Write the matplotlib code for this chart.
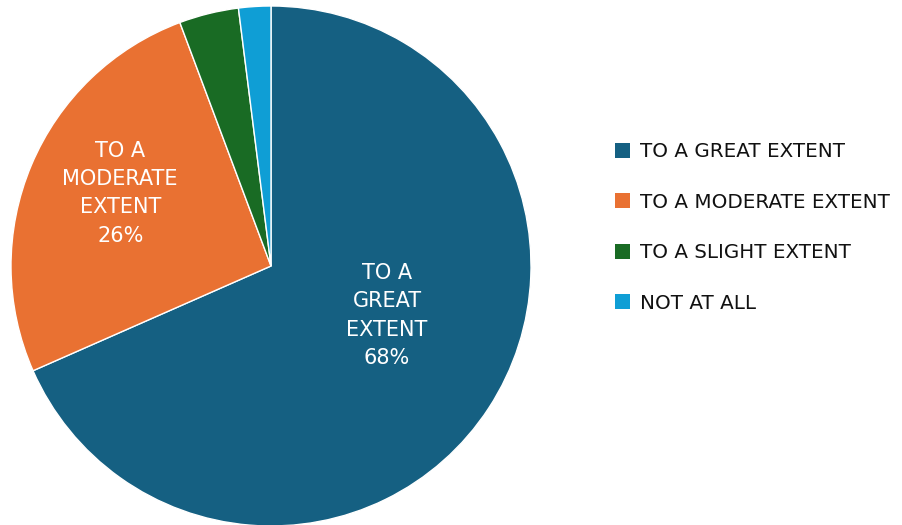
import matplotlib
matplotlib.use("Agg")
import matplotlib.pyplot as plt
import numpy as np

categories = ["TO A GREAT EXTENT", "TO A MODERATE EXTENT", "TO A SLIGHT EXTENT", "NOT AT ALL"]
values = [68.4, 25.9, 3.7, 2.0]
colors = ["#156082", "#E97132", "#196B24", "#0F9ED5"]
slice_labels = ["TO A\nGREAT\nEXTENT\n68%", "TO A\nMODERATE\nEXTENT\n26%", "", ""]

plt.rcParams['font.family'] = ['DejaVu Sans']

fig = plt.figure(figsize=(9.02, 5.25), dpi=100)
ax = fig.add_axes([11/902, -1/525, 520/902, 520/525])
wedges, _ = ax.pie(values, colors=colors, startangle=90, counterclock=False,
                   wedgeprops=dict(edgecolor="white", linewidth=1.0), radius=1.0)
ax.set_xlim(-1, 1)
ax.set_ylim(-1, 1)
ax.set_aspect('equal')
ax.axis('off')

label_pos = [(0.446, -0.19), (-0.58, 0.28)]
for (x, y), lab in zip(label_pos, slice_labels[:2]):
    ax.text(x, y, lab, ha='center', va='center', color='white', fontsize=15,
            linespacing=1.52)

handles = [plt.Rectangle((0, 0), 1, 1, facecolor=c, edgecolor='none') for c in colors]
leg = fig.legend(handles, categories, loc='center left',
                 bbox_to_anchor=(597/902, (525-227.5)/525), frameon=False,
                 fontsize=14.3, handlelength=0.78, handleheight=0.78,
                 handletextpad=0.5, labelspacing=1.58)
for t in leg.get_texts():
    t.set_color("#111111")

fig.savefig("out.png", dpi=100)
